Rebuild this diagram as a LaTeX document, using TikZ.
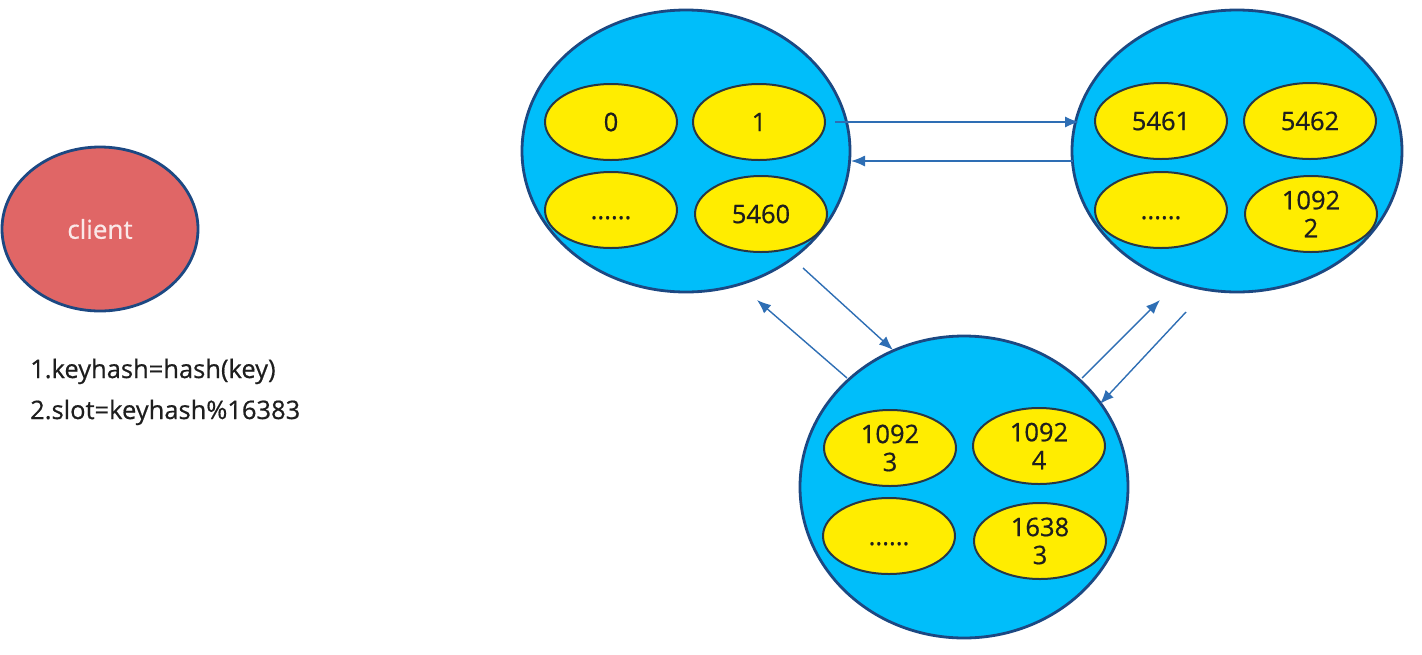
\documentclass[tikz,border=0pt]{standalone}
\usepackage{fontspec}
\setmainfont{Open Sans}
\newfontfamily\labelfont{Open Sans}[FakeBold=0.6]
\usetikzlibrary{shapes.geometric,arrows.meta}
\definecolor{nodefill}{RGB}{0,190,250}
\definecolor{nodeline}{RGB}{28,72,130}
\definecolor{slotfill}{RGB}{255,237,0}
\definecolor{slotline}{RGB}{40,55,70}
\definecolor{clientfill}{RGB}{224,102,102}
\definecolor{clienttext}{RGB}{250,232,232}
\definecolor{linkcol}{RGB}{46,110,180}
\definecolor{txt}{RGB}{30,30,30}
\tikzset{
  server/.style={ellipse, draw=nodeline, fill=nodefill, line width=2.8pt, inner sep=0pt},
  slot/.style={ellipse, draw=slotline, fill=slotfill, line width=2pt, inner sep=0pt,
    minimum width=132pt, minimum height=76pt, font=\labelfont\fontsize{25.5}{28}\selectfont,
    text=txt, align=center},
  client/.style={ellipse, draw=nodeline, fill=clientfill, line width=2.8pt, inner sep=0pt,
    minimum width=196pt, minimum height=164pt, text=clienttext,
    font=\labelfont\fontsize{26}{28}\selectfont},
  note/.style={anchor=base west, inner sep=0pt, text=txt,
    font=\labelfont\fontsize{25.5}{28}\selectfont},
  link/.style={draw=linkcol, line width=1.4pt, -{Latex[length=14pt,width=11pt]}},
}
\begin{document}
\begin{tikzpicture}[x=1pt,y=-1pt]
\useasboundingbox (0,0) rectangle (1422,654);

% client and the two steps of slot lookup
\node[client] (client) at (100,229) {client};
\node[note] (step1) at (30,378) {1.keyhash=hash(key)};
\node[note] (step2) at (30,419) {2.slot=keyhash\%16383};

% three servers, each holding a range of slots
\node[server, minimum width=328pt, minimum height=282pt] (s1) at (686,151) {};
\node[server, minimum width=330pt, minimum height=282pt] (s2) at (1237,151) {};
\node[server, minimum width=328pt, minimum height=302pt] (s3) at (964,487) {};

\node[slot] (a1) at (611,122) {0};
\node[slot] (a2) at (759,122) {1};
\node[slot] (a3) at (611,210) {\vphantom{0}......};
\node[slot] (a4) at (761,214) {5460};

\node[slot] (b1) at (1161,121) {5461};
\node[slot] (b2) at (1310,121) {5462};
\node[slot] (b3) at (1161,210) {\vphantom{0}......};
\node[slot] (b4) at (1311,214) {1092\\2};

\node[slot] (c1) at (890,448) {1092\\3};
\node[slot] (c2) at (1039,446) {1092\\4};
\node[slot] (c3) at (889,536) {\vphantom{0}......};
\node[slot] (c4) at (1040,541) {1638\\3};

% end points of the links between servers
\coordinate (p12s) at (835,122);
\coordinate (p12e) at (1079,122);
\coordinate (p21s) at (1073,161);
\coordinate (p21e) at (851,161);
\coordinate (p13s) at (803,268);
\coordinate (p13e) at (893,350);
\coordinate (p31s) at (847,378);
\coordinate (p31e) at (757,300);
\coordinate (p32s) at (1082,378);
\coordinate (p32e) at (1160,300);
\coordinate (p23s) at (1186,312);
\coordinate (p23e) at (1100,404);

\draw[link] (p12s) -- (p12e);
\draw[link] (p21s) -- (p21e);
\draw[link] (p13s) -- (p13e);
\draw[link] (p31s) -- (p31e);
\draw[link] (p32s) -- (p32e);
\draw[link] (p23s) -- (p23e);
\end{tikzpicture}
\end{document}
